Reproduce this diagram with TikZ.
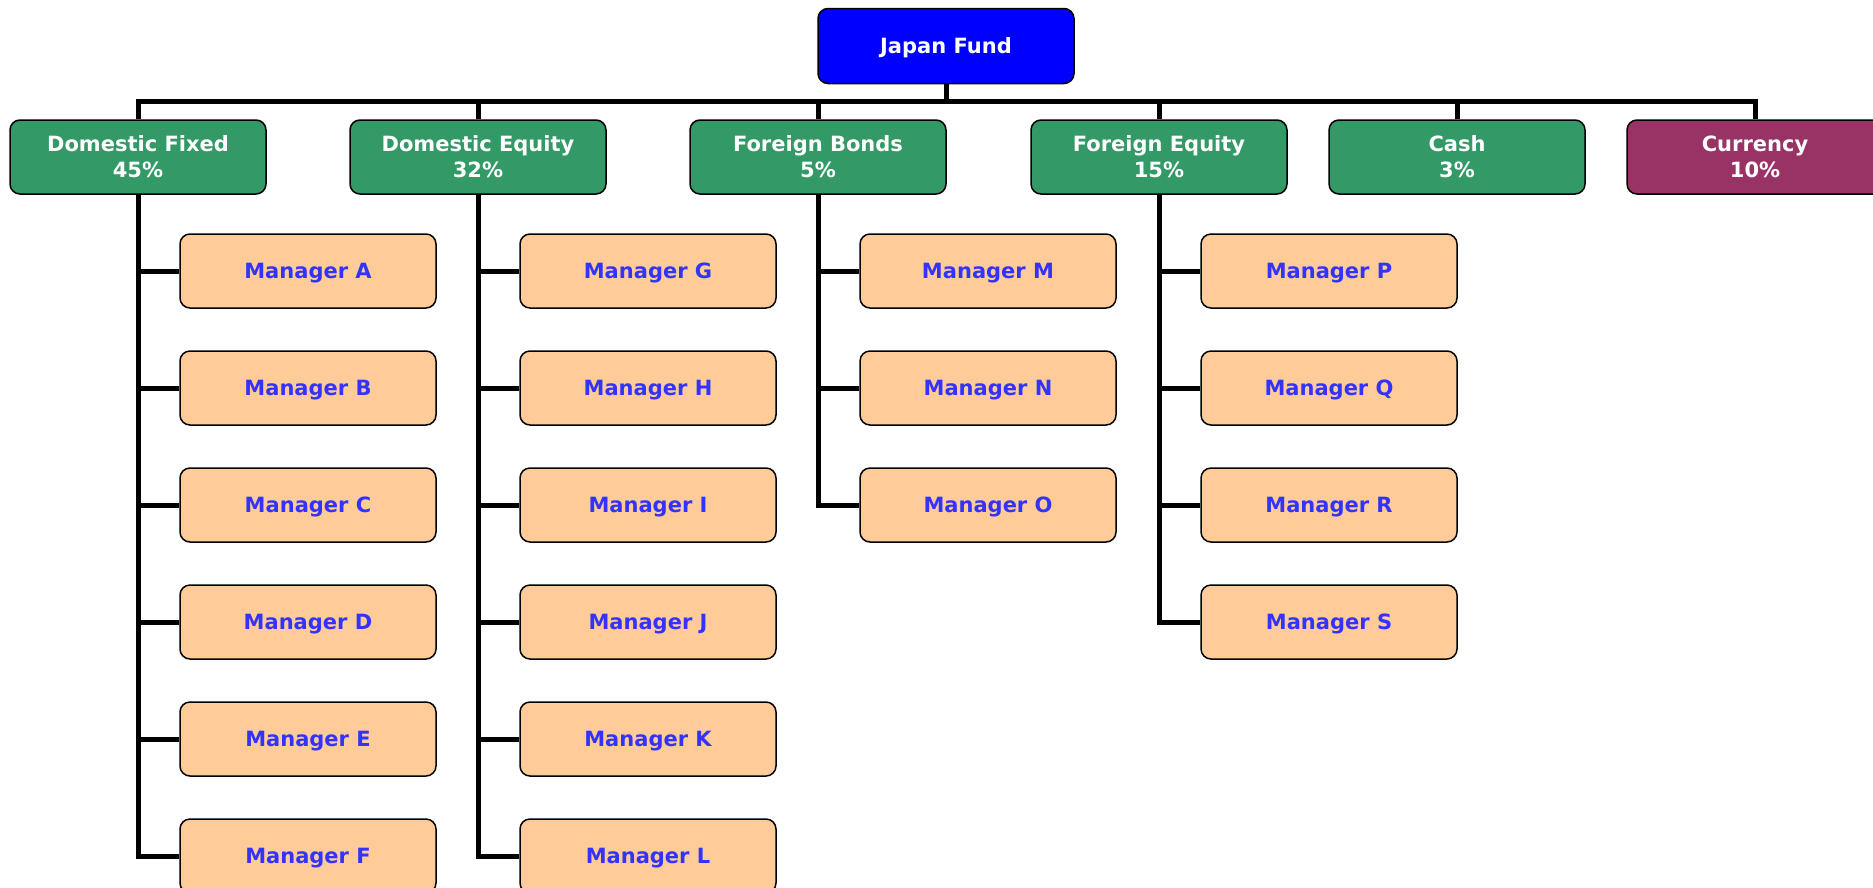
\documentclass[tikz,border=0pt]{standalone}
\usepackage{fontspec}
\setmainfont{DejaVu Sans}
\usetikzlibrary{calc}
\definecolor{fundblue}{HTML}{0000FF}
\definecolor{assetgreen}{HTML}{339966}
\definecolor{currplum}{HTML}{993366}
\definecolor{mgrpeach}{HTML}{FFCC99}
\definecolor{mgrtext}{HTML}{3333FF}
\begin{document}
\begin{tikzpicture}[x=1pt,y=-1pt,
	box/.style={draw=black,line width=1.5pt,rounded corners=10pt,minimum width=256pt,minimum height=75pt,align=center,text depth=0pt,font=\fontsize{21}{26}\selectfont\bfseries},
	fundbox/.style={box,fill=fundblue,text=white},
	catbox/.style={box,fill=assetgreen,text=white,minimum height=74pt},
	curbox/.style={catbox,fill=currplum},
	mgrbox/.style={box,fill=mgrpeach,text=mgrtext,minimum height=74pt},
	link/.style={line width=5pt}]
	\useasboundingbox (0,0) rectangle (1873,887);
	\node[fundbox] (fund) at (946,46) {Japan Fund};
	\coordinate (bus) at (946,101);
	\node[catbox] (df) at (138,157) {Domestic Fixed\\45\%};
	\node[catbox] (de) at (478,157) {Domestic Equity\\32\%};
	\node[catbox] (fb) at (818,157) {Foreign Bonds\\5\%};
	\node[catbox] (fe) at (1159,157) {Foreign Equity\\15\%};
	\node[catbox] (cash) at (1457,157) {Cash\\3\%};
	\node[curbox] (cur) at (1755,157) {Currency\\10\%};
	\draw[link] (fund.south) -- (bus);
	\foreach \c in {df,de,fb,fe,cash,cur}
		\draw[link] (\c.north) |- (bus);
	% managers under each asset class
	\foreach \c/\l in {df/{A,B,C,D,E,F},de/{G,H,I,J,K,L},fb/{M,N,O},fe/{P,Q,R,S}}{
		\foreach \m [count=\i] in \l {
			\node[mgrbox] (mgr\m) at ($(\c.center)+(170,114+117*\i-117)$) {Manager \m};
			\draw[link] (\c.south) |- (mgr\m.west);
		}
	}
\end{tikzpicture}
\end{document}
